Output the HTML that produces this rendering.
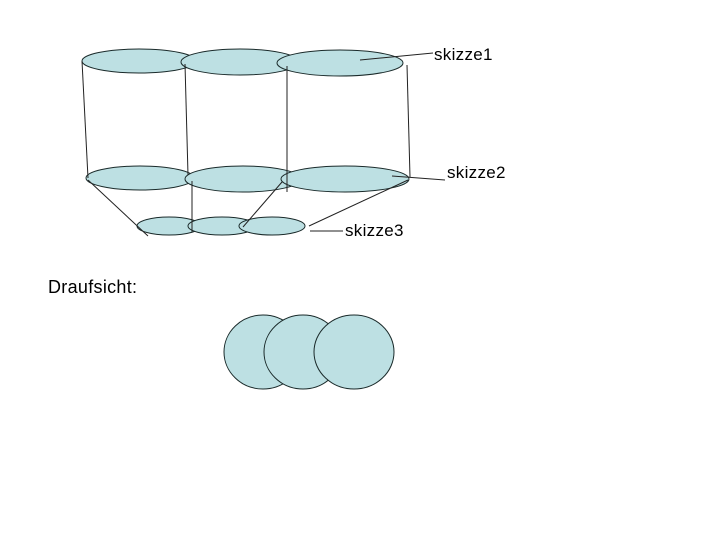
<!DOCTYPE html>
<html><head><meta charset="utf-8"><style>
html,body{margin:0;padding:0;background:#fff;}
svg{display:block;}
text{font-family:"Liberation Sans",Arial,sans-serif;font-size:17px;fill:#000;letter-spacing:0.3px;}
</style></head><body>
<svg width="720" height="540" viewBox="0 0 720 540" xmlns="http://www.w3.org/2000/svg">
<g fill="#bde0e3" stroke="#1a2a2a" stroke-width="1">
<ellipse cx="139" cy="61" rx="57" ry="12"/>
<ellipse cx="240" cy="62" rx="59" ry="13"/>
<ellipse cx="340" cy="63" rx="63" ry="13"/>
<ellipse cx="140" cy="178" rx="54" ry="12"/>
<ellipse cx="243" cy="179" rx="58" ry="13"/>
<ellipse cx="345" cy="179" rx="64" ry="13"/>
<ellipse cx="169" cy="226" rx="32" ry="9"/>
<ellipse cx="222" cy="226" rx="34" ry="9"/>
<ellipse cx="272" cy="226" rx="33" ry="9"/>
</g>
<g stroke="#222" stroke-width="1" fill="none">
<line x1="82" y1="61" x2="88" y2="178"/>
<line x1="185" y1="64" x2="188" y2="175"/>
<line x1="287" y1="66" x2="287" y2="192"/>
<line x1="407" y1="65" x2="410" y2="177"/>
<line x1="88" y1="180" x2="148" y2="236"/>
<line x1="192" y1="181" x2="192" y2="232"/>
<line x1="282" y1="182" x2="243" y2="227"/>
<line x1="408" y1="180" x2="309" y2="226"/>
<line x1="360" y1="60" x2="433" y2="53"/>
<line x1="392" y1="176" x2="445" y2="180"/>
<line x1="310" y1="231" x2="343" y2="231"/>
</g>
<text x="434" y="60">skizze1</text>
<text x="447" y="178">skizze2</text>
<text x="345" y="236">skizze3</text>
<text x="48" y="293" style="font-size:18px">Draufsicht:</text>
<g fill="#bde0e3" stroke="#1a2a2a" stroke-width="1">
<ellipse cx="263" cy="352" rx="39" ry="37"/>
<ellipse cx="303" cy="352" rx="39" ry="37"/>
<ellipse cx="354" cy="352" rx="40" ry="37"/>
</g>
</svg>
</body></html>
